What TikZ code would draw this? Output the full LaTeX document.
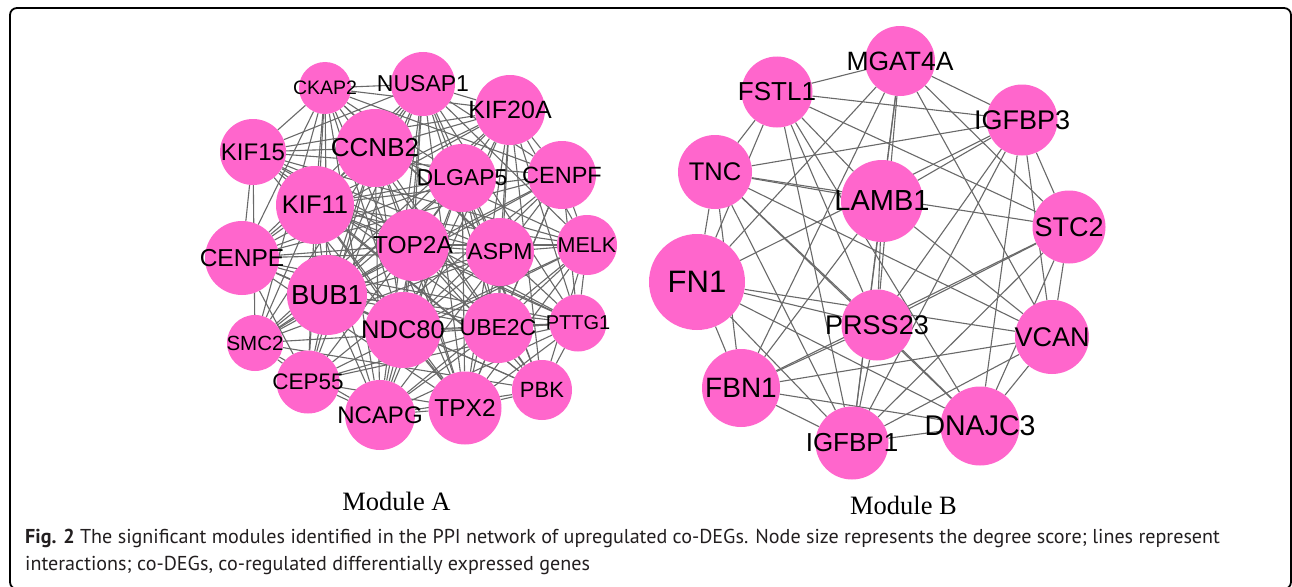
\documentclass[tikz,border=0pt]{standalone}
\usepackage{fontspec}
\setmainfont{Liberation Serif}
\newfontfamily\arialfont{Liberation Sans}
\newfontfamily\capfont{PT Sans}
\usetikzlibrary{backgrounds}

\definecolor{genepink}{RGB}{255,102,204}
\definecolor{edgegray}{RGB}{105,105,105}
\definecolor{captext}{RGB}{35,31,32}

\newcommand{\genefont}[1]{\arialfont\fontsize{#1}{#1}\selectfont}
\newcommand{\moduleA}{CKAP2,NUSAP1,KIF20A,KIF15,CCNB2,DLGAP5,CENPF,KIF11,CENPE,TOP2A,ASPM,MELK,BUB1,NDC80,UBE2C,PTTG1,SMC2,CEP55,NCAPG,TPX2,PBK}
\newcommand{\moduleB}{MGAT4A,FSTL1,IGFBP3,TNC,LAMB1,STC2,FN1,PRSS23,VCAN,FBN1,DNAJC3,IGFBP1}

\tikzset{
  gene/.style n args={3}{circle, fill=genepink, inner sep=0pt, minimum size=2*#1,
    label={[font=\genefont{#2}]center:#3}},
  ppi/.style={draw=edgegray, line width=1.1pt},
  modlabel/.style={font=\fontsize{26.5}{26.5}\selectfont, anchor=base, inner sep=0pt},
  captionline/.style={font=\capfont\fontsize{20.1}{20.1}\selectfont, text=captext, anchor=base west, inner sep=0pt},
}

\begin{document}
\begin{tikzpicture}[x=1pt, y=-1pt]
  \useasboundingbox (0,0) rectangle (1292,586);
  \draw[line width=1.8pt, rounded corners=7pt] (10,8) rectangle (1291,589);

  % module A
  \node[gene={26}{19.5}{CKAP2}]  (CKAP2)  at (325,88)  {};
  \node[gene={32}{23}{NUSAP1}]   (NUSAP1) at (423,84)  {};
  \node[gene={35}{25}{KIF20A}]   (KIF20A) at (510,110) {};
  \node[gene={33}{24}{KIF15}]    (KIF15)  at (253,152) {};
  \node[gene={39}{26}{CCNB2}]    (CCNB2)  at (375,148) {};
  \node[gene={34}{23}{DLGAP5}]   (DLGAP5) at (462,178) {};
  \node[gene={34}{23.5}{CENPF}]  (CENPF)  at (562,175) {};
  \node[gene={39}{25.5}{KIF11}]  (KIF11)  at (315,205) {};
  \node[gene={37}{24.5}{CENPE}]  (CENPE)  at (242,258) {};
  \node[gene={36}{24.5}{TOP2A}]  (TOP2A)  at (413,245) {};
  \node[gene={34}{23}{ASPM}]     (ASPM)   at (500,252) {};
  \node[gene={30}{21.5}{MELK}]   (MELK)   at (587,245) {};
  \node[gene={40}{27.5}{BUB1}]   (BUB1)   at (327,295) {};
  \node[gene={38}{25.5}{NDC80}]  (NDC80)  at (403,330) {};
  \node[gene={35}{23}{UBE2C}]    (UBE2C)  at (498,328) {};
  \node[gene={28.5}{20}{PTTG1}]  (PTTG1)  at (578,323) {};
  \node[gene={28}{20.5}{SMC2}]   (SMC2)   at (255,343) {};
  \node[gene={31.5}{22.5}{CEP55}] (CEP55) at (308,382) {};
  \node[gene={35}{24}{NCAPG}]    (NCAPG)  at (380,415) {};
  \node[gene={36.5}{24.5}{TPX2}] (TPX2)   at (465,408) {};
  \node[gene={30}{22}{PBK}]      (PBK)    at (542,390) {};

  % module B
  \node[gene={35}{26.5}{MGAT4A}] (MGAT4A) at (900,61)  {};
  \node[gene={35.5}{26}{FSTL1}]  (FSTL1)  at (777,92)  {};
  \node[gene={35.5}{27}{IGFBP3}] (IGFBP3) at (1022,120) {};
  \node[gene={37}{25.5}{TNC}]    (TNC)    at (715,172) {};
  \node[gene={41}{29}{LAMB1}]    (LAMB1)  at (882,201) {};
  \node[gene={36.5}{27}{STC2}]   (STC2)   at (1069,227) {};
  \node[gene={48}{31}{FN1}]      (FN1)    at (697,282) {};
  \node[gene={35.5}{27}{PRSS23}] (PRSS23) at (877,325) {};
  \node[gene={37}{27}{VCAN}]     (VCAN)   at (1052,337) {};
  \node[gene={39}{28}{FBN1}]     (FBN1)   at (741,388) {};
  \node[gene={39.5}{28.5}{DNAJC3}] (DNAJC3) at (980,426) {};
  \node[gene={36.5}{26}{IGFBP1}] (IGFBP1) at (852,443) {};

  \node[modlabel] (modA) at (396.5,510) {Module A};
  \node[modlabel] (modB) at (903.5,514) {Module B};

  \node[captionline] (cap1) at (25,543) {\textbf{Fig. 2} The significant modules identified in the PPI network of upregulated co-DEGs. Node size represents the degree score; lines represent};
  \node[captionline] (cap2) at (25,570) {interactions; co-DEGs, co-regulated differentially expressed genes};

  % interactions go under the nodes
  \pgfmathsetseed{42}
  \begin{pgfonlayer}{background}
    \fill[white] (0,0) rectangle (1292,586);
    \foreach \u [count=\i] in \moduleA {
      \foreach \v [count=\j] in \moduleA {
        \ifnum\j>\i
          \pgfmathtruncatemacro\keep{rnd<0.8}
          \ifnum\keep=1 \draw[ppi] (\u) -- (\v); \fi
        \fi
      }
    }
    \foreach \u [count=\i] in \moduleB {
      \foreach \v [count=\j] in \moduleB {
        \ifnum\j>\i
          \pgfmathtruncatemacro\keep{rnd<0.9}
          \ifnum\keep=1 \draw[ppi] (\u) -- (\v); \fi
        \fi
      }
    }
  \end{pgfonlayer}
\end{tikzpicture}
\end{document}
